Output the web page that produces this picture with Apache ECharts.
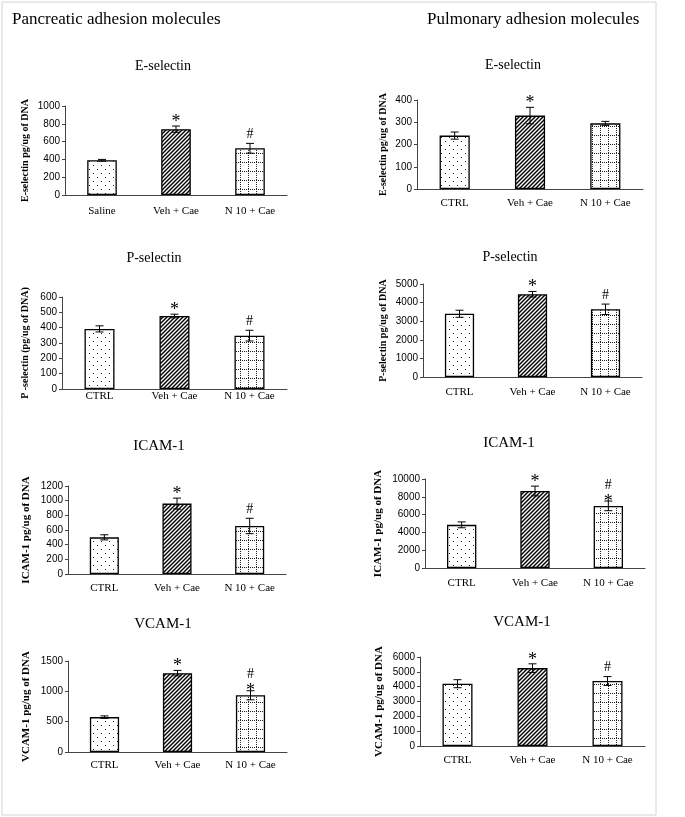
<!DOCTYPE html>
<html>
<head>
<meta charset="utf-8">
<script src="https://cdn.jsdelivr.net/npm/echarts@6/dist/echarts.min.js"></script>
<style>
html,body{margin:0;padding:0;background:#fff;}
#chart{width:685px;height:817px;}
</style>
</head>
<body>
<div id="chart"></div>
<script>
// ---------- data ----------
const catsSaline = ['Saline', 'Veh + Cae', 'N 10 + Cae'];
const catsCtrl = ['CTRL', 'Veh + Cae', 'N 10 + Cae'];

const pancE = [390, 740, 525];
const pancEErr = [10, 35, 55];
const pancEMarks = ['', '*', '#'];

const pulmE = [240, 330, 295];
const pulmEErr = [16, 37, 9];
const pulmEMarks = ['', '*', ''];

const pancP = [392, 476, 348];
const pancPErr = [20, 12, 35];
const pancPMarks = ['', '*', '#'];

const pulmP = [3400, 4450, 3640];
const pulmPErr = [190, 150, 280];
const pulmPMarks = ['', '*', '#'];

const pancICAM = [500, 960, 655];
const pancICAMErr = [35, 75, 105];
const pancICAMMarks = ['', '*', '#'];

const pulmICAM = [4850, 8650, 6980];
const pulmICAMErr = [330, 550, 540];
const pulmICAMMarks = ['', '*', '#*'];

const pancVCAM = [575, 1300, 935];
const pancVCAMErr = [20, 45, 75];
const pancVCAMMarks = ['', '*', '#*'];

const pulmVCAM = [4200, 5250, 4380];
const pulmVCAMErr = [270, 290, 300];
const pulmVCAMMarks = ['', '*', '#'];

const yMax = [1000, 400, 600, 5000, 1200, 10000, 1500, 6000];
const yStep = [200, 100, 100, 1000, 200, 2000, 500, 1000];

const panelTitles = ['E-selectin', 'E-selectin', 'P-selectin', 'P-selectin', 'ICAM-1', 'ICAM-1', 'VCAM-1', 'VCAM-1'];
const yNames = ['E-selectin pg/ug of DNA', 'E-selectin pg/ug of DNA', 'P -selectin (pg/ug of DNA)', 'P-selectin pg/ug of DNA',
  'ICAM-1 pg/ug of DNA', 'ICAM-1 pg/ug of DNA', 'VCAM-1 pg/ug of DNA', 'VCAM-1 pg/ug of DNA'];
const mainTitles = ['Pancreatic adhesion molecules', 'Pulmonary adhesion molecules'];

// ---------- patterns ----------
function tile(w, h, draw) {
  const c = document.createElement('canvas');
  c.width = w; c.height = h;
  const g = c.getContext('2d');
  g.fillStyle = '#fff'; g.fillRect(0, 0, w, h);
  draw(g);
  return { image: c, repeat: 'repeat' };
}
const patDots = tile(8, 8, g => { g.fillStyle = '#222'; g.fillRect(1, 1, 1, 1); g.fillRect(5, 5, 1, 1); });
const patHatch = tile(4, 4, g => {
  g.strokeStyle = '#000'; g.lineWidth = 1.4;
  [[-1, 1, 1, -1], [0, 4, 4, 0], [3, 5, 5, 3]].forEach(s => { g.beginPath(); g.moveTo(s[0], s[1]); g.lineTo(s[2], s[3]); g.stroke(); });
});
const patGrid = tile(8, 9, g => {
  g.fillStyle = '#222';
  for (let i = 0; i < 8; i += 2) g.fillRect(i, 0, 1, 1);
  for (let i = 0; i < 9; i += 2) g.fillRect(0, i, 1, 1);
});
const patterns = [patDots, patHatch, patGrid];

// ---------- panels ----------
const panels = [
  { cats: catsSaline, v: pancE, e: pancEErr, m: pancEMarks, grid: [65, 106, 222, 89], gap: 35, nfs: 10, lm: 11, t: [163, 66], tfs: 14 },
  { cats: catsCtrl, v: pulmE, e: pulmEErr, m: pulmEMarks, grid: [417, 100, 226, 89], gap: 29, nfs: 10, lm: 9, t: [513, 65], tfs: 14 },
  { cats: catsCtrl, v: pancP, e: pancPErr, m: pancPMarks, grid: [62, 297, 225, 92], gap: 32, nfs: 10, lm: 2, t: [154, 258], tfs: 14 },
  { cats: catsCtrl, v: pulmP, e: pulmPErr, m: pulmPMarks, grid: [423, 284, 219, 93], gap: 35, nfs: 10, lm: 10, t: [510, 257], tfs: 14 },
  { cats: catsCtrl, v: pancICAM, e: pancICAMErr, m: pancICAMMarks, grid: [68, 486, 218, 88], gap: 36, nfs: 11, lm: 9, t: [159, 446], tfs: 15 },
  { cats: catsCtrl, v: pulmICAM, e: pulmICAMErr, m: pulmICAMMarks, grid: [425, 479, 220, 89], gap: 41, nfs: 11, lm: 10, t: [509, 443], tfs: 15 },
  { cats: catsCtrl, v: pancVCAM, e: pancVCAMErr, m: pancVCAMMarks, grid: [68, 661, 219, 91], gap: 36, nfs: 11, lm: 8, t: [163, 624], tfs: 15 },
  { cats: catsCtrl, v: pulmVCAM, e: pulmVCAMErr, m: pulmVCAMMarks, grid: [420, 657, 225, 89], gap: 35, nfs: 11, lm: 9, t: [522, 622], tfs: 15 }
];

const axisColor = '#444';
const grids = [], xAxes = [], yAxes = [], series = [], graphics = [];

graphics.push({ type: 'rect', shape: { x: 2, y: 2, width: 654, height: 813 }, style: { fill: 'none', stroke: '#d4d4d4', lineWidth: 1 } });
graphics.push({ type: 'text', x: 12, y: 20, style: { text: mainTitles[0], font: '17px "Liberation Serif"', fill: '#000', align: 'left', verticalAlign: 'middle' } });
graphics.push({ type: 'text', x: 427, y: 20, style: { text: mainTitles[1], font: '17px "Liberation Serif"', fill: '#000', align: 'left', verticalAlign: 'middle' } });

panels.forEach((p, k) => {
  grids.push({ left: p.grid[0], top: p.grid[1], width: p.grid[2], height: p.grid[3] });
  xAxes.push({
    type: 'category', gridIndex: k, data: p.cats,
    axisLine: { lineStyle: { color: axisColor, width: 1 } },
    axisTick: { length: 3, lineStyle: { color: axisColor } },
    axisLabel: { color: '#000', fontFamily: 'Liberation Serif', fontSize: 11, margin: p.lm }
  });
  yAxes.push({
    type: 'value', gridIndex: k, min: 0, max: yMax[k], interval: yStep[k],
    splitLine: { show: false },
    axisLine: { show: true, lineStyle: { color: axisColor, width: 1 } },
    axisTick: { show: true, length: 3, lineStyle: { color: axisColor } },
    axisLabel: { color: '#000', fontFamily: 'Liberation Sans', fontSize: 10, margin: 5, formatter: v => String(v) },
    name: yNames[k], nameLocation: 'middle', nameRotate: 90, nameGap: p.gap,
    nameTextStyle: { color: '#000', fontFamily: 'Liberation Serif', fontWeight: 'bold', fontSize: p.nfs }
  });
  series.push({
    type: 'bar', xAxisIndex: k, yAxisIndex: k, barWidth: '40%', silent: true,
    data: p.v.map((v, i) => ({ value: v, itemStyle: { color: patterns[i], borderColor: '#000', borderWidth: 1.3 } }))
  });
  const marks = p.m;
  series.push({
    type: 'custom', xAxisIndex: k, yAxisIndex: k, silent: true, z: 5,
    data: p.v.map((v, i) => [i, v, p.e[i]]),
    renderItem: function (params, api) {
      const i = api.value(0), v = api.value(1), e = api.value(2);
      const top = api.coord([i, v + e]);
      const bot = api.coord([i, v - e]);
      const hw = 4;
      const ls = { stroke: '#000', lineWidth: 1 };
      const children = [
        { type: 'line', shape: { x1: top[0], y1: top[1], x2: bot[0], y2: bot[1] }, style: ls },
        { type: 'line', shape: { x1: top[0] - hw, y1: top[1], x2: top[0] + hw, y2: top[1] }, style: ls },
        { type: 'line', shape: { x1: bot[0] - hw, y1: bot[1], x2: bot[0] + hw, y2: bot[1] }, style: ls }
      ];
      const chars = (marks[params.dataIndex] || '').split('');
      chars.forEach((c, j) => {
        let y;
        if (chars.length === 1) y = top[1] - (c === '*' ? 4 : 9);
        else y = top[1] - (chars.length - 1 - j) * 14 + (c === '*' ? 1 : -2);
        const fs = c === '*' ? 18 : 14;
        children.push({ type: 'text', x: top[0], y: y, style: { text: c, font: fs + 'px "Liberation Serif"', fill: '#000', align: 'center', verticalAlign: 'middle' } });
      });
      return { type: 'group', children: children };
    }
  });
  graphics.push({ type: 'text', x: p.t[0], y: p.t[1], style: { text: panelTitles[k], font: p.tfs + 'px "Liberation Serif"', fill: '#000', align: 'center', verticalAlign: 'middle' } });
});

const chart = echarts.init(document.getElementById('chart'), null, { renderer: 'canvas' });
chart.setOption({
  animation: false,
  backgroundColor: '#fff',
  grid: grids, xAxis: xAxes, yAxis: yAxes, series: series,
  graphic: graphics
});
</script>
</body>
</html>
